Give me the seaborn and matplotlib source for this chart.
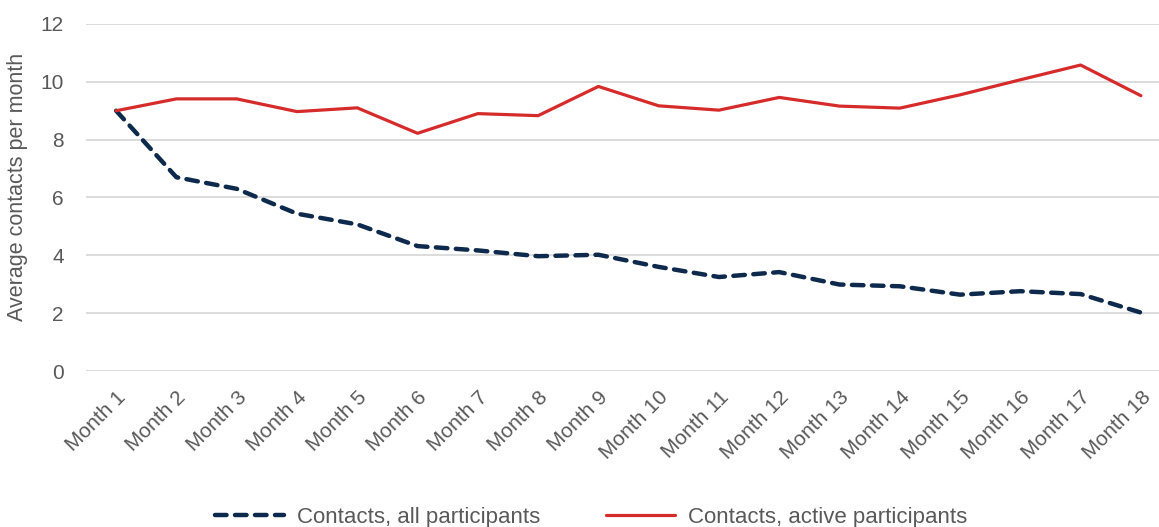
import pandas as pd
import matplotlib
matplotlib.use('Agg')
import matplotlib.pyplot as plt
import seaborn as sns

# Data
months = [f'Month {i}' for i in range(1, 19)]
all_participants = [9.0, 6.7, 6.3, 5.44, 5.07, 4.32, 4.17, 3.97, 4.02,
                    3.6, 3.25, 3.42, 2.99, 2.93, 2.64, 2.76, 2.66, 2.02]
active_participants = [9.0, 9.41, 9.41, 8.97, 9.1, 8.22, 8.9, 8.83, 9.84,
                       9.17, 9.02, 9.46, 9.16, 9.09, 9.55, 10.07, 10.58, 9.52]
label_all = 'Contacts, all participants'
label_active = 'Contacts, active participants'
y_ticks = [0, 2, 4, 6, 8, 10, 12]

df = pd.DataFrame({'month': months, 'all': all_participants, 'active': active_participants})

# style
sns.set_theme(style='white')
plt.rcParams['font.family'] = ['Liberation Sans', 'DejaVu Sans']
text_color = '#595959'
navy = '#0d2a4c'
red = '#d62b2b'

fig = plt.figure(figsize=(11.59, 5.27), dpi=100)
ax = fig.add_axes([0.0742, 0.296, 1 - 0.0742, 0.9545 - 0.296])

sns.lineplot(ax=ax, data=df, x='month', y='all', color=navy, linewidth=3.2,
             label=label_all, sort=False)
sns.lineplot(ax=ax, data=df, x='month', y='active', color=red, linewidth=2.3,
             label=label_active, sort=False)

line_all = ax.lines[0]
line_all.set_dashes((2.6, 1.9))
line_all.set_dash_capstyle('round')

ax.set_xlim(-0.5, 17.3)
ax.set_ylim(0, 12)
ax.set_yticks(y_ticks)
ax.yaxis.grid(True, color='#d9d9d9', linewidth=1.3)
ax.set_axisbelow(True)
for s in ax.spines.values():
    s.set_visible(False)

ax.set_xlabel(None)
ax.set_ylabel('Average contacts per month', fontsize=15.5, color=text_color)
ax.yaxis.set_label_coords(-0.054, 0.53)
ax.tick_params(axis='y', labelsize=15, labelcolor=text_color, pad=16, length=0)
ax.tick_params(axis='x', labelsize=15, labelcolor=text_color, pad=12, length=0)
plt.setp(ax.get_xticklabels(), rotation=45, ha='right', rotation_mode='anchor')

ax.get_legend().remove()
handles, labels = ax.get_legend_handles_labels()
fig.legend(handles, labels, loc='lower center', bbox_to_anchor=(0.51, -0.04), ncol=2,
           frameon=False, fontsize=16, labelcolor=text_color, handlelength=3.1,
           columnspacing=3.0, handletextpad=0.55)

plt.savefig('out.png', dpi=100)
